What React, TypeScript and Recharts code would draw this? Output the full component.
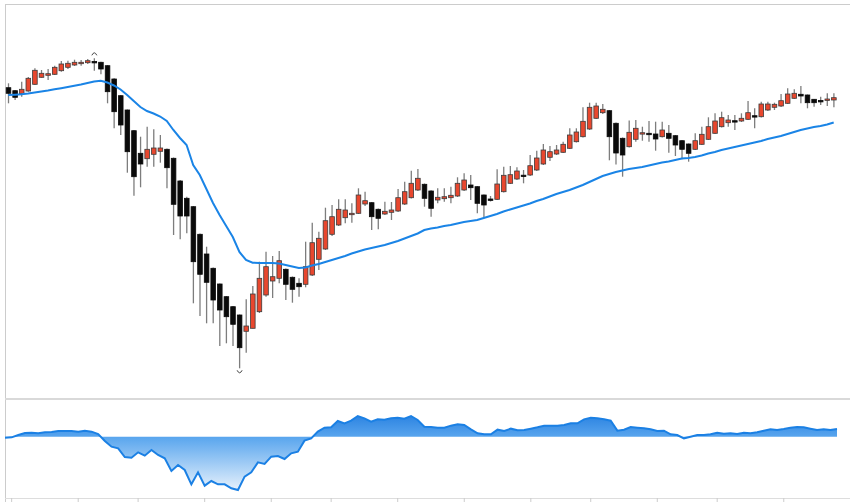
import React from "react";
import { ComposedChart, Bar, Line, Area, XAxis, YAxis } from "recharts";

// daily OHLC
const opens = [
  31.23, 30.93, 30.63, 30.9, 31.57, 32.27, 32.47, 32.57, 32.93, 33.27,
  33.5, 33.67, 33.73, 33.85, 33.77, 33.43, 32.1, 30.43, 29.0, 26.93,
  24.67, 24.13, 24.57, 24.87, 25.07, 24.17, 21.9, 20.17, 19.33, 16.57,
  14.6, 13.17, 11.6, 10.33, 9.33, 8.5, 6.87, 7.17, 8.83, 10.5,
  11.9, 12.17, 13.07, 12.27, 11.67, 11.57, 12.5, 14.07, 15.1, 16.57,
  17.5, 18.23, 18.62, 18.67, 19.6, 19.73, 19.07, 18.6, 18.77, 18.9,
  19.6, 20.23, 21.0, 21.57, 20.9, 20.0, 20.13, 20.23, 20.4, 21.0,
  21.5, 21.33, 20.5, 20.1, 20.07, 20.83, 21.67, 22.1, 22.48, 22.5,
  23.0, 23.6, 24.27, 24.6, 24.77, 25.17, 25.83, 26.33, 27.1, 28.17,
  28.73, 28.93, 27.67, 26.17, 25.33, 26.07, 26.6, 26.67, 26.6, 26.33,
  26.67, 26.43, 25.93, 25.6, 25.07, 25.57, 26.07, 26.67, 27.33, 27.73,
  27.93, 27.9, 28.07, 28.43, 28.33, 29.0, 29.27, 29.4, 29.67, 30.17,
  30.57, 30.5, 30.07, 29.95, 30.0, 30.0,
];
const highs = [
  31.67, 31.0, 31.83, 32.3, 33.17, 33.0, 33.1, 33.43, 33.9, 33.93,
  34.03, 34.0, 34.1, 34.17, 33.82, 33.5, 32.17, 30.5, 29.05, 27.0,
  26.33, 27.33, 27.07, 26.5, 25.15, 24.25, 22.0, 20.33, 19.4, 16.65,
  15.33, 13.25, 11.65, 10.4, 9.4, 8.55, 10.07, 11.4, 13.83, 14.83,
  14.4, 14.9, 13.15, 12.35, 12.17, 15.83, 17.73, 16.83, 19.23, 19.5,
  20.07, 20.07, 19.67, 21.17, 20.83, 19.8, 19.15, 19.83, 19.8, 21.1,
  21.83, 22.93, 23.1, 21.65, 20.97, 21.17, 21.17, 21.33, 22.27, 22.67,
  22.5, 21.4, 20.55, 20.4, 23.07, 23.33, 23.4, 23.27, 23.0, 24.5,
  24.93, 25.6, 25.4, 25.5, 25.83, 27.17, 27.17, 29.27, 29.73, 29.73,
  29.6, 29.0, 27.75, 26.25, 27.95, 28.0, 27.33, 27.9, 27.83, 27.83,
  27.5, 26.5, 26.0, 25.65, 26.67, 27.33, 28.27, 28.67, 28.83, 28.5,
  28.5, 28.67, 29.9, 29.17, 29.83, 29.83, 29.73, 30.6, 31.17, 31.07,
  31.4, 30.55, 30.1, 30.33, 30.67, 30.67,
];
const lows = [
  29.67, 30.0, 30.33, 30.83, 31.5, 32.23, 32.0, 32.5, 32.83, 33.1,
  33.4, 33.43, 33.6, 32.93, 32.57, 29.67, 27.17, 26.5, 22.73, 20.43,
  21.27, 23.33, 23.33, 23.73, 21.17, 16.5, 16.07, 16.67, 9.67, 8.4,
  7.67, 7.67, 5.4, 5.67, 5.4, 3.17, 4.73, 7.15, 8.7, 10.33,
  10.2, 11.67, 10.0, 9.73, 10.33, 11.27, 12.4, 13.0, 15.0, 16.4,
  17.4, 17.67, 17.73, 18.6, 19.4, 17.0, 17.07, 18.5, 18.0, 18.8,
  19.5, 20.15, 20.9, 19.33, 18.33, 19.67, 19.83, 19.67, 20.3, 20.9,
  20.0, 18.67, 18.17, 19.85, 20.0, 20.75, 21.6, 22.0, 21.67, 22.4,
  22.9, 23.5, 23.9, 24.5, 24.7, 25.1, 25.75, 26.25, 27.0, 28.1,
  28.6, 23.97, 23.55, 22.33, 25.25, 25.83, 25.93, 25.83, 24.93, 26.25,
  24.73, 24.4, 24.07, 23.83, 25.0, 25.5, 26.0, 26.6, 27.25, 27.33,
  27.0, 27.8, 28.0, 27.17, 28.25, 28.9, 29.0, 29.3, 29.6, 30.1,
  29.67, 29.17, 29.33, 29.5, 29.4, 29.27,
];
const closes = [
  30.67, 30.27, 31.07, 32.17, 32.97, 32.67, 32.63, 33.27, 33.6, 33.67,
  33.77, 33.77, 33.93, 33.81, 33.1, 30.83, 28.83, 27.5, 24.83, 22.33,
  23.6, 25.07, 25.2, 25.2, 23.23, 19.57, 18.4, 18.4, 13.83, 12.57,
  11.77, 10.0, 9.0, 8.33, 7.57, 5.23, 7.4, 10.6, 12.17, 13.33,
  12.33, 13.93, 11.57, 11.07, 11.33, 13.33, 15.73, 16.17, 17.93, 18.33,
  19.07, 19.0, 18.67, 20.5, 19.93, 18.33, 18.17, 18.87, 19.0, 20.23,
  20.83, 21.67, 22.17, 20.17, 19.17, 20.27, 20.33, 20.47, 21.67, 22.0,
  21.23, 19.67, 19.5, 20.04, 21.6, 22.47, 22.53, 22.9, 22.44, 23.43,
  24.2, 25.0, 24.83, 25.0, 25.57, 26.5, 26.8, 27.87, 29.27, 29.4,
  29.07, 26.33, 24.7, 24.5, 26.77, 27.17, 26.73, 26.53, 26.1, 27.0,
  26.17, 25.5, 25.07, 24.67, 25.93, 26.57, 27.33, 27.9, 28.23, 28.0,
  27.83, 28.17, 28.73, 28.33, 29.6, 29.6, 29.57, 29.93, 30.6, 30.67,
  30.4, 29.73, 29.73, 29.91, 30.1, 30.23,
];
const movingAvg = [
  30.5, 30.53, 30.57, 30.65, 30.75, 30.85, 30.95, 31.07, 31.18, 31.3,
  31.42, 31.55, 31.7, 31.85, 31.92, 31.75, 31.45, 31.05, 30.5, 29.9,
  29.3, 28.9, 28.65, 28.35, 27.9, 27.0, 26.2, 25.5, 23.5, 22.5,
  21.1, 19.7, 18.5, 17.4, 16.3, 14.8, 14.0, 13.73, 13.7, 13.7,
  13.7, 13.65, 13.5, 13.35, 13.2, 13.25, 13.45, 13.6, 13.8, 14.0,
  14.2, 14.4, 14.65, 14.85, 15.05, 15.2, 15.35, 15.5, 15.7, 15.9,
  16.15, 16.4, 16.65, 17.0, 17.15, 17.25, 17.4, 17.5, 17.65, 17.8,
  17.9, 18.0, 18.2, 18.4, 18.6, 18.85, 19.05, 19.25, 19.45, 19.65,
  19.9, 20.1, 20.35, 20.6, 20.8, 21.0, 21.25, 21.5, 21.8, 22.1,
  22.4, 22.6, 22.8, 22.95, 23.1, 23.2, 23.3, 23.45, 23.6, 23.75,
  23.85, 24.0, 24.15, 24.2, 24.3, 24.45, 24.65, 24.8, 25.0, 25.15,
  25.3, 25.45, 25.6, 25.75, 25.9, 26.1, 26.25, 26.4, 26.6, 26.8,
  27.0, 27.15, 27.3, 27.4, 27.55, 27.75,
];
const oscillator = [
  -0.03, -0.02, 0.05, 0.11, 0.12, 0.1, 0.13, 0.14, 0.17, 0.17,
  0.17, 0.15, 0.18, 0.15, 0.08, -0.13, -0.3, -0.35, -0.61, -0.63,
  -0.47, -0.57, -0.4, -0.55, -0.65, -1.03, -0.85, -1.0, -1.43, -1.07,
  -1.47, -1.33, -1.43, -1.43, -1.55, -1.6, -1.2, -1.07, -0.77, -0.82,
  -0.6, -0.58, -0.67, -0.5, -0.45, -0.12, -0.05, 0.15, 0.27, 0.28,
  0.47, 0.4, 0.48, 0.62, 0.55, 0.45, 0.52, 0.51, 0.55, 0.57,
  0.54, 0.62, 0.5, 0.3, 0.29, 0.27, 0.27, 0.33, 0.37, 0.35,
  0.22, 0.1, 0.07, 0.07, 0.21, 0.17, 0.24, 0.19, 0.2, 0.24,
  0.28, 0.33, 0.33, 0.33, 0.35, 0.4, 0.4, 0.52, 0.57, 0.55,
  0.52, 0.48, 0.18, 0.21, 0.29, 0.27, 0.25, 0.22, 0.17, 0.18,
  0.07, 0.05, -0.05, 0.0, 0.05, 0.05, 0.07, 0.12, 0.09, 0.1,
  0.08, 0.12, 0.1, 0.13, 0.18, 0.22, 0.2, 0.23, 0.27, 0.29,
  0.28, 0.24, 0.2, 0.22, 0.2, 0.23,
];
const tickDays = [1, 11, 20, 30, 40, 49, 59, 69, 79, 88, 98, 107, 117];

const data = opens.map((open, i) => ({
  day: i,
  open,
  high: highs[i],
  low: lows[i],
  close: closes[i],
  ma: movingAvg[i],
  osc: oscillator[i],
}));

const maxHigh = Math.max(...highs);
const minLow = Math.min(...lows);

const UP = "#e8472e";
const DOWN = "#0a0a0a";

function Candle(props: any) {
  const { x, y, width, height, payload } = props;
  if (!payload || width == null) return null;
  const top = Math.min(y, y + height);
  const h = Math.abs(height);
  const { open, high, low, close } = payload;
  const span = high - low || 1;
  const py = (v: number) => top + ((high - v) / span) * h;
  const cx = x + width / 2;
  const up = close >= open;
  const bodyTop = py(Math.max(open, close));
  const bodyH = Math.max(py(Math.min(open, close)) - bodyTop, 1.4);
  const bw = 4.6;
  return (
    <g>
      <line x1={cx} x2={cx} y1={py(high)} y2={py(low)} stroke="#7d7d7d" strokeWidth={1.3} />
      <rect
        x={cx - bw / 2}
        y={bodyTop}
        width={bw}
        height={bodyH}
        fill={up ? UP : DOWN}
        stroke={up ? "#3c3c3c" : DOWN}
        strokeWidth={0.8}
      />
      {high === maxHigh && (
        <path
          d={`M${cx - 2.5} ${py(high) - 3} Q${cx} ${py(high) - 8} ${cx + 2.5} ${py(high) - 3}`}
          fill="none"
          stroke="#444"
          strokeWidth={1}
        />
      )}
      {low === minLow && (
        <path
          d={`M${cx - 2.5} ${py(low) + 2} Q${cx} ${py(low) + 7} ${cx + 2.5} ${py(low) + 2}`}
          fill="none"
          stroke="#444"
          strokeWidth={1}
        />
      )}
    </g>
  );
}

const line = (style: React.CSSProperties) => (
  <div style={{ position: "absolute", ...style }} />
);

export default function App() {
  return (
    <div
      style={{
        position: "absolute",
        left: 0,
        top: 0,
        width: 850,
        height: 502,
        overflow: "hidden",
        background: "#fff",
      }}
    >
      {line({ left: 5, top: 4, width: 845, height: 1, background: "#cccccc" })}
      {line({ left: 5, top: 4, width: 1, height: 498, background: "#cccccc" })}
      {line({ left: 5, top: 398, width: 845, height: 2, background: "#d9d9d9" })}
      {line({ left: 5, top: 498, width: 845, height: 1, background: "#dddddd" })}

      <div style={{ position: "absolute", left: 0, top: 0 }}>
        <ComposedChart
          width={850}
          height={398}
          data={data}
          margin={{ top: 5, right: 13, left: 5, bottom: 0 }}
        >
          <XAxis dataKey="day" hide />
          <YAxis hide domain={[0.2, 39.5]} allowDataOverflow />
          <Line
            dataKey="ma"
            type="linear"
            stroke="#1a84e6"
            strokeWidth={2}
            dot={false}
            activeDot={false}
            isAnimationActive={false}
          />
          <Bar
            dataKey={(d: any) => [d.low, d.high]}
            barSize={5}
            shape={(p: any) => <Candle {...p} />}
            isAnimationActive={false}
          />
        </ComposedChart>
      </div>

      <div style={{ position: "absolute", left: 0, top: 398 }}>
        <ComposedChart
          width={850}
          height={114}
          data={data}
          margin={{ top: 2, right: 13, left: 5, bottom: 0 }}
        >
          <defs>
            <linearGradient id="oscFill" x1="0" y1="0" x2="0" y2="1">
              <stop offset="0%" stopColor="#2d84e2" />
              <stop offset="29%" stopColor="#5aa6ee" />
              <stop offset="100%" stopColor="#e6f1fc" />
            </linearGradient>
          </defs>
          <XAxis
            dataKey="day"
            ticks={tickDays}
            interval={0}
            tickFormatter={() => ""}
            tickLine={{ stroke: "#cccccc" }}
            tickSize={6}
            axisLine={false}
            height={14}
          />
          <YAxis hide domain={[-1.84, 1.1]} allowDataOverflow />
          <Area
            dataKey="osc"
            type="linear"
            baseValue={0}
            stroke="#1b80e4"
            strokeWidth={2}
            fill="url(#oscFill)"
            fillOpacity={1}
            dot={false}
            activeDot={false}
            isAnimationActive={false}
          />
        </ComposedChart>
      </div>
    </div>
  );
}
